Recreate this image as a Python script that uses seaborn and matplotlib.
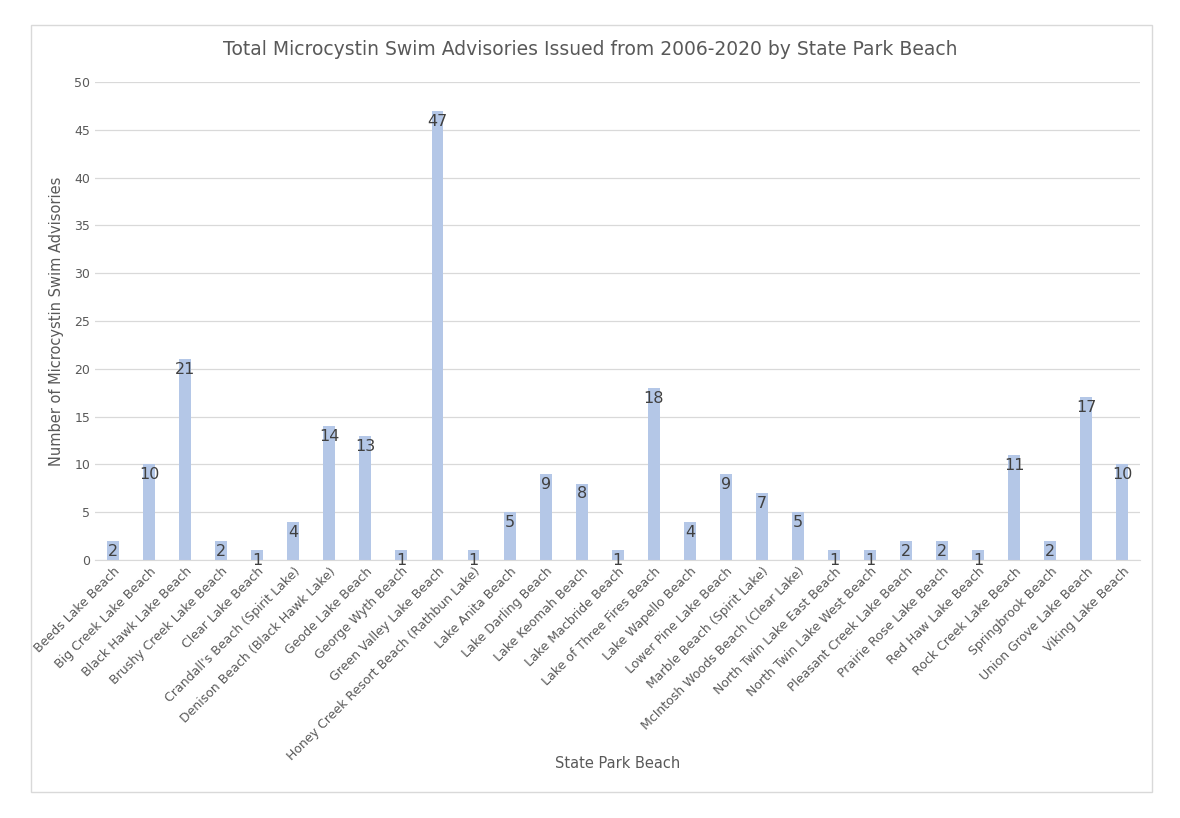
import matplotlib
matplotlib.use("Agg")
import matplotlib.pyplot as plt
import seaborn as sns
import pandas as pd
from matplotlib.patches import Rectangle

beaches = [
    "Beeds Lake Beach", "Big Creek Lake Beach", "Black Hawk Lake Beach",
    "Brushy Creek Lake Beach", "Clear Lake Beach", "Crandall's Beach (Spirit Lake)",
    "Denison Beach (Black Hawk Lake)", "Geode Lake Beach", "George Wyth Beach",
    "Green Valley Lake Beach", "Honey Creek Resort Beach (Rathbun Lake)",
    "Lake Anita Beach", "Lake Darling Beach", "Lake Keomah Beach",
    "Lake Macbride Beach", "Lake of Three Fires Beach", "Lake Wapello Beach",
    "Lower Pine Lake Beach", "Marble Beach (Spirit Lake)",
    "McIntosh Woods Beach (Clear Lake)", "North Twin Lake East Beach",
    "North Twin Lake West Beach", "Pleasant Creek Lake Beach",
    "Prairie Rose Lake Beach", "Red Haw Lake Beach", "Rock Creek Lake Beach",
    "Springbrook Beach", "Union Grove Lake Beach", "Viking Lake Beach",
]
advisories = [2, 10, 21, 2, 1, 4, 14, 13, 1, 47, 1, 5, 9, 8, 1, 18, 4, 9, 7, 5,
              1, 1, 2, 2, 1, 11, 2, 17, 10]

df = pd.DataFrame({"beach": beaches, "n": advisories})

plt.rcParams["font.family"] = "DejaVu Sans"
fig = plt.figure(figsize=(11.8, 8.18), dpi=100)
ax = fig.add_axes([0.0805, 0.3154, 0.886, 0.5844])

sns.barplot(data=df, x="beach", y="n", color="#B4C7E7", saturation=1,
            width=0.33, ax=ax)

for i, v in enumerate(advisories):
    ax.text(i, v - 0.3, str(v), ha="center", va="top", fontsize=11.5,
            color="#404040")

ax.set_ylim(0, 50)
ax.set_yticks(range(0, 51, 5))
ax.set_xlim(-0.5, len(beaches) - 0.5)
ax.grid(axis="y", color="#D9D9D9", linewidth=0.9)
ax.set_axisbelow(True)
for s in ["top", "right", "left"]:
    ax.spines[s].set_visible(False)
ax.spines["bottom"].set_color("#D9D9D9")
ax.tick_params(axis="both", length=0, labelsize=9, labelcolor="#595959")
ax.set_xticks(range(len(beaches)))
ax.set_xticklabels(beaches, rotation=45, ha="right", rotation_mode="anchor")
ax.set_xlabel("")
ax.set_ylabel("Number of Microcystin Swim Advisories", fontsize=10.5,
              color="#595959")
ax.yaxis.set_label_coords(-0.03, 0.5)

fig.text(0.5, 0.939, "Total Microcystin Swim Advisories Issued from 2006-2020 by State Park Beach",
         ha="center", va="center", fontsize=13.5, color="#595959")
fig.text(0.523, 0.067, "State Park Beach", ha="center", va="center",
         fontsize=10.5, color="#595959")

fig.patches.append(Rectangle((31 / 1180, 1 - 792 / 818), 1121 / 1180, 767 / 818,
                             transform=fig.transFigure, fill=False,
                             edgecolor="#D9D9D9", linewidth=1))

fig.savefig("out.png", dpi=100)
